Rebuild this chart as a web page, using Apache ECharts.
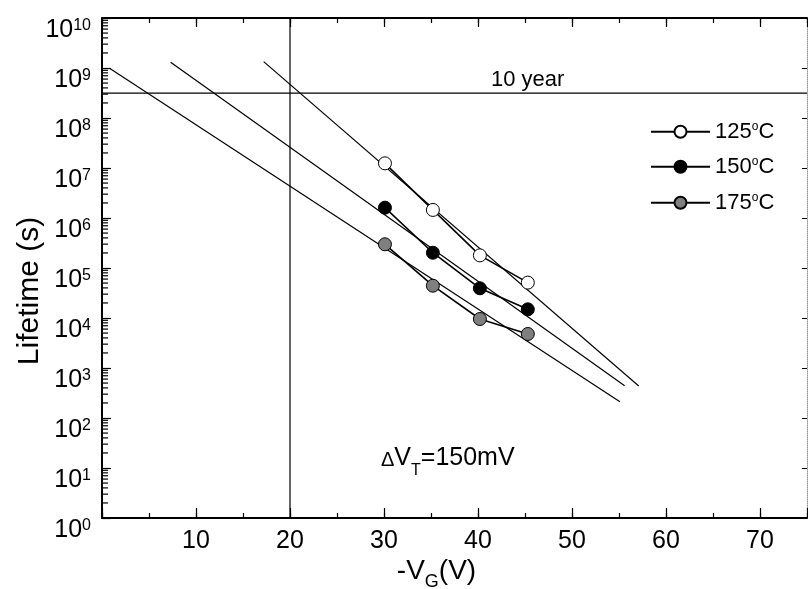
<!DOCTYPE html>
<html><head><meta charset="utf-8">
<script src="https://cdn.jsdelivr.net/npm/echarts@6/dist/echarts.min.js"></script>
<style>html,body{margin:0;padding:0;background:#fff}#c{width:808px;height:589px}</style>
</head><body><div id="c"></div>
<script>
const FONT = '"Liberation Sans", Arial, Helvetica, sans-serif';

// ---- data ----
const temperatures = ['125°C', '150°C', '175°C'];
const gateVoltage = [30.1, 35.2, 40.2, 45.3];          // -V_G (V)
const life125 = [1.24e7, 1.45e6, 1.79e5, 5.1e4];        // lifetime (s)
const life150 = [1.61e6, 2.02e5, 3.93e4, 1.49e4];
const life175 = [2.98e5, 4.43e4, 9.55e3, 4.79e3];
const fit125X = [17.2, 57.1], fit125Y = [1.34e9, 436];
const fit150X = [7.3, 55.6],  fit150Y = [1.30e9, 443];
const fit175X = [0.8, 55.1],  fit175Y = [9.9e8, 212];
const tenYearSeconds = 3.15e8;
const referenceVoltage = 20;
const xMin = 0, xMax = 75;
const yMin = 1, yMax = 1e10;
const minorMultipliers = [2, 3, 4, 5, 6, 7, 8, 9];
const decades = [1, 10, 100, 1e3, 1e4, 1e5, 1e6, 1e7, 1e8, 1e9];

// ---- build ----
const pairs = (xs, ys) => xs.map((x, i) => [x, ys[i]]);
const minorTicks = [];
decades.forEach(d => minorMultipliers.forEach(m => minorTicks.push([xMin, d * m])));

const markerFills = ['#ffffff', '#000000', '#7f7f7f'];
const lifeSets = [life125, life150, life175];
const fitSets = [[fit125X, fit125Y], [fit150X, fit150Y], [fit175X, fit175Y]];

const series = [];
fitSets.forEach((f, i) => series.push({
  name: 'fit' + i, type: 'line', data: pairs(f[0], f[1]), showSymbol: false, symbol: 'none',
  lineStyle: { color: '#000', width: 1.2 }, z: 2, silent: true
}));
series.push({ name: 'tenYear', type: 'line', data: [[xMin, tenYearSeconds], [xMax, tenYearSeconds]],
  symbol: 'none', lineStyle: { color: '#000', width: 1.2 }, z: 2, silent: true });
series.push({ name: 'vref', type: 'line', data: [[referenceVoltage, yMin], [referenceVoltage, yMax]],
  symbol: 'none', lineStyle: { color: '#000', width: 1.2 }, z: 2, silent: true });
lifeSets.forEach((ls, i) => series.push({
  name: temperatures[i], type: 'line', data: pairs(gateVoltage, ls),
  symbol: 'circle', symbolSize: 13, showAllSymbol: true,
  itemStyle: { color: markerFills[i], borderColor: '#000', borderWidth: 1 },
  lineStyle: { color: '#000', width: 1.6 }, z: 5
}));
series.push({
  name: 'minorTicks', type: 'custom', xAxisIndex: 0, yAxisIndex: 0, data: minorTicks, silent: true, z: 10,
  clip: false,
  renderItem: (params, api) => {
    const p = api.coord([api.value(0), api.value(1)]);
    return { type: 'line', shape: { x1: p[0], y1: p[1], x2: p[0] + 6, y2: p[1] },
      style: { stroke: '#000', lineWidth: 1.2 } };
  }
});

const rowCenters = [131.7, 166.7, 202.7];
const legends = temperatures.map((t, i) => ({
  data: [t], left: 650, top: rowCenters[i] - 11, orient: 'vertical', padding: 0,
  itemWidth: 59, itemHeight: 15, selectedMode: false,
  formatter: name => { const p = name.split('°'); return `{t|${p[0]}}{s|o}{t|${p[1]}}`; },
  textStyle: { color: '#000', fontFamily: FONT,
    rich: { t: { fontSize: 22, lineHeight: 22, fontFamily: FONT, color: '#000', verticalAlign: 'bottom' },
            s: { fontSize: 12, lineHeight: 12, fontFamily: FONT, color: '#000', verticalAlign: 'top' } } }
}));

const baseX = { type: 'value', min: xMin, max: xMax, splitLine: { show: false } };
const baseY = { type: 'log', logBase: 10, min: yMin, max: yMax, interval: 1, splitNumber: 10, splitLine: { show: false } };
const option = {
  animation: false,
  backgroundColor: '#fff',
  grid: { left: 102, right: 1, top: 18, bottom: 71, outerBoundsMode: 'none', containLabel: false },
  legend: legends,
  xAxis: [
    Object.assign({}, baseX, { position: 'bottom', interval: 10,
      axisLine: { show: true, onZero: false, lineStyle: { color: '#000', width: 2 } },
      axisTick: { inside: true, length: 10, lineStyle: { color: '#000', width: 1.2 } },
      axisLabel: { color: '#000', fontFamily: FONT, fontSize: 25, lineHeight: 25, margin: 11,
        formatter: v => (v === 0 || v === 75) ? '' : String(v) } }),
    Object.assign({}, baseX, { position: 'bottom', interval: 5,
      axisLine: { show: false }, axisLabel: { show: false },
      axisTick: { inside: true, length: 5, lineStyle: { color: '#000', width: 1.2 } } }),
    Object.assign({}, baseX, { position: 'top', interval: 10,
      axisLine: { show: true, onZero: false, lineStyle: { color: '#000', width: 2 } },
      axisTick: { inside: true, length: 9, lineStyle: { color: '#000', width: 1.2 } },
      axisLabel: { show: false } }),
    Object.assign({}, baseX, { position: 'top', interval: 5,
      axisLine: { show: false }, axisLabel: { show: false },
      axisTick: { inside: true, length: 5, lineStyle: { color: '#000', width: 1.2 } } })
  ],
  yAxis: [
    Object.assign({}, baseY, { position: 'left',
      axisLine: { show: true, onZero: false, lineStyle: { color: '#000', width: 2 } },
      axisTick: { inside: true, length: 9, lineStyle: { color: '#000', width: 1.2 } },
      axisLabel: { margin: 11, interval: 0, hideOverlap: false, verticalAlign: 'top', color: '#000', fontFamily: FONT,
        formatter: v => `{b|10}{s|${Math.round(Math.log10(v))}}`,
        rich: { b: { fontSize: 25, lineHeight: 25, fontFamily: FONT, color: '#000', verticalAlign: 'bottom' },
                s: { fontSize: 16, lineHeight: 16, fontFamily: FONT, color: '#000', verticalAlign: 'top' } } } }),
    Object.assign({}, baseY, { position: 'right',
      axisLine: { show: true, onZero: false, lineStyle: { color: '#999', width: 1, type: 'dotted' } },
      axisTick: { inside: true, length: 5, lineStyle: { color: '#000', width: 1 } },
      axisLabel: { show: false } })
  ],
  series: series,
  graphic: [
    { type: 'text', x: 491, y: 80, silent: true,
      style: { text: '10 year', fill: '#000', font: `22px ${FONT}`, align: 'left', verticalAlign: 'middle' } },
    { type: 'text', x: 381, y: 446, silent: true,
      style: { text: '{d|Δ}{v|V}{u|T}{v|=150mV}', align: 'left', verticalAlign: 'top', fill: '#000', font: `25px ${FONT}`,
        rich: { d: { fontSize: 20, fontFamily: FONT, fill: '#000', verticalAlign: 'top', padding: [4, 0, 0, 0] },
                v: { fontSize: 25, lineHeight: 24, fontFamily: FONT, fill: '#000', verticalAlign: 'top' },
                u: { fontSize: 16, fontFamily: FONT, fill: '#000', verticalAlign: 'bottom', padding: [17, 0, 0, 0] } } } },
    { type: 'text', x: 436.5, y: 557.7, silent: true,
      style: { text: '{a|-V}{b|G}{a|(V)}', align: 'center', verticalAlign: 'top', fill: '#000', font: `28px ${FONT}`,
        rich: { a: { fontSize: 28, lineHeight: 28, fontFamily: FONT, fill: '#000', verticalAlign: 'top' },
                b: { fontSize: 18, fontFamily: FONT, fill: '#000', verticalAlign: 'bottom', padding: [15, 0, 0, 0] } } } },
    { type: 'text', x: 30, y: 291, rotation: Math.PI / 2, silent: true,
      style: { text: 'Lifetime (s)', fill: '#000', font: `30px ${FONT}`, align: 'center', verticalAlign: 'middle' } }
  ]
};
const chart = echarts.init(document.getElementById('c'), null, { renderer: 'canvas' });
chart.setOption(option);
</script>
</body></html>
